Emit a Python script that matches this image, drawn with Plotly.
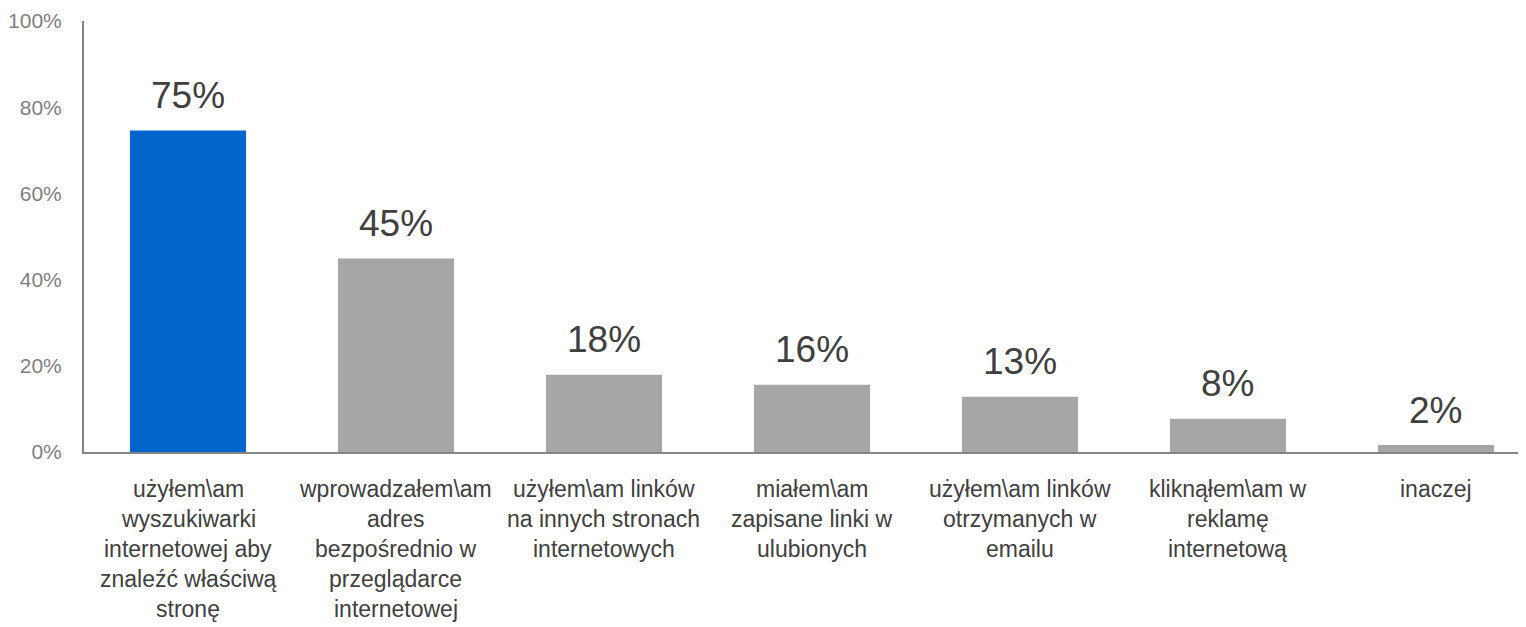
import plotly.graph_objects as go

categories = [
    "użyłem\\am<br>wyszukiwarki<br>internetowej aby<br>znaleźć właściwą<br>stronę",
    "wprowadzałem\\am<br>adres<br>bezpośrednio w<br>przeglądarce<br>internetowej",
    "użyłem\\am linków<br>na innych stronach<br>internetowych",
    "miałem\\am<br>zapisane linki w<br>ulubionych",
    "użyłem\\am linków<br>otrzymanych w<br>emailu",
    "kliknąłem\\am w<br>reklamę<br>internetową",
    "inaczej",
]
values = [74.6, 44.9, 17.9, 15.6, 12.8, 7.7, 1.6]
bar_colors = ["#0066CC", "#A6A6A6", "#A6A6A6", "#A6A6A6", "#A6A6A6", "#A6A6A6", "#A6A6A6"]
y_ticks = [0, 20, 40, 60, 80, 100]

FONT = "Liberation Sans, Arial, sans-serif"
xs = list(range(len(categories)))

fig = go.Figure(go.Bar(
    x=xs, y=values, marker=dict(color=bar_colors, line=dict(width=0)),
    width=0.558, hoverinfo="skip",
))

annotations = []
for i, v in zip(xs, values):
    annotations.append(dict(
        x=i, y=v, xref="x", yref="y", text=f"{round(v)}%", showarrow=False,
        yanchor="middle", yshift=35, font=dict(family=FONT, size=37, color="#404040"),
    ))
    for k, line in enumerate(categories[i].split("<br>")):
        annotations.append(dict(
            x=i, y=0, xref="x", yref="paper", text=line, showarrow=False,
            yanchor="middle", yshift=-(37 + 30 * k),
            font=dict(family=FONT, size=23, color="#404040"),
        ))

# page body adds an 8px margin; compensate so the chart sits like the reference
fig.update_layout(
    width=1518, height=619,
    margin=dict(l=76, r=0, t=13, b=175, autoexpand=False),
    paper_bgcolor="white", plot_bgcolor="white",
    showlegend=False,
    annotations=annotations,
    xaxis=dict(
        range=[-0.5, 6.433], showticklabels=False, ticks="", showgrid=False,
        zeroline=False, showline=True, linecolor="#868686", linewidth=2,
        fixedrange=True, automargin=False,
    ),
    yaxis=dict(
        range=[0, 100], tickvals=y_ticks, ticktext=[f"{t}%" for t in y_ticks],
        showgrid=False, zeroline=False, showline=True, linecolor="#868686", linewidth=2,
        ticks="", ticklabelstandoff=16,
        tickfont=dict(family=FONT, size=21, color="#7F7F7F"),
        fixedrange=True, automargin=False,
    ),
)

fig.write_html("out.html")
